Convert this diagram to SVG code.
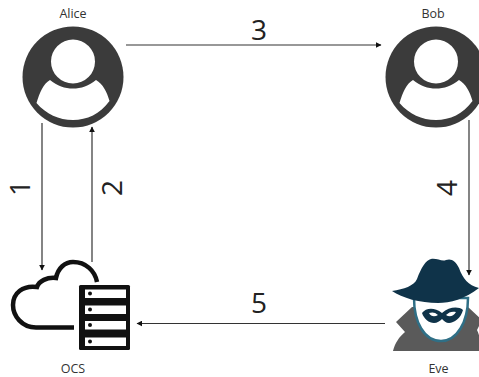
<svg xmlns="http://www.w3.org/2000/svg" width="479" height="377" viewBox="0 0 479 377">
<style>
text{font-family:"Open Sans","Noto Sans","DejaVu Sans",sans-serif;fill:#222}
.n{font-size:12.500px;text-anchor:middle;fill:#333}
.b{font-size:28px;text-anchor:middle}
.c{fill:none;stroke:#333;stroke-width:1.200;marker-end:url(#a)}
.u{fill:#3b3b3b}
.w{fill:#fff}
</style>
<defs>
<marker id="a" markerUnits="userSpaceOnUse" markerWidth="6" markerHeight="6" refX="5" refY="3" orient="auto"><path d="M0 0.200L5.500 3L0 5.800z" fill="#111"/></marker>
<g id="user">
<circle class="u" cx="0" cy="0" r="50.500"/>
<circle class="w" cx="0" cy="-15.500" r="22"/>
<path class="w" d="M-23 3C-16 9 -8 11.500 0 11.500C8 11.500 16 9 23 3C30 7 34 15 36.500 24C27 37 14 43 0 43C-14 43 -27 37 -36.500 26C-33 15 -30 7 -23 3z"/>
</g>
</defs>
<g id="connectors">
<path class="c" d="M126 45H381"/>
<path class="c" d="M42 123V270"/>
<path class="c" d="M92 262V127"/>
<path class="c" d="M469 120V275"/>
<path class="c" d="M385 323.500H137"/>
<text class="b" x="259" y="40">3</text>
<text class="b" x="259" y="313">5</text>
<text class="b" transform="translate(30 188) rotate(-90)">1</text>
<text class="b" transform="translate(122 188) rotate(-90)">2</text>
<text class="b" transform="translate(457 188) rotate(-90)">4</text>
</g>
<g id="alice"><use href="#user" x="73" y="77"/><text class="n" x="73" y="18">Alice</text></g>
<g id="bob"><use href="#user" x="436" y="77"/><text class="n" x="433" y="18">Bob</text></g>
<g id="ocs">
<path d="M74 327.500H36C22 327.500 13 316 13 305C13 293 23 285 37 287C39 281 47 277 56 278C58 268 65 262 73 262C86 262 95 271 97 282" fill="none" stroke="#111" stroke-width="4.500"/>
<rect x="79" y="285" width="51" height="65" rx="1.500" fill="#111"/>
<rect class="w" x="85" y="289.500" width="41" height="8.500"/>
<rect class="w" x="85" y="305.500" width="41" height="8.500"/>
<rect class="w" x="85" y="321" width="41" height="8.500"/>
<rect class="w" x="85" y="337.500" width="41" height="8.500"/>
<g fill="#111"><circle cx="90" cy="293.500" r="2"/><circle cx="90" cy="309.500" r="2"/><circle cx="90" cy="325" r="2"/><circle cx="90" cy="341.500" r="2"/></g>
<text class="n" x="73" y="373">OCS</text>
</g>
<g id="eve">
<path d="M393 351C395 343 399 337 405 332L396 322L412 307H468L482 320L477 330C480 336 481 345 482 351z" fill="#5a5a5a"/>
<path d="M414 298C414 322 424 341 441 341C457 341 468 322 468 298z" fill="#fff" stroke="#2f6f86" stroke-width="2.500"/>
<path d="M392 291C404 289 414 286 417 279C421 268 426 260 431 259C437 258 442 262 446 260C451 258 456 261 459 268C463 279 468 285 479 288C465 299 450 303 438 303C420 303 402 298 392 291z" fill="#0f3349"/>
<path fill-rule="evenodd" d="M422 313C426 308 434 307 442 313C449 307 458 306 463 310C461 318 454 323 449 323C446 323 444 321 442 319C440 321 437 323 434 323C429 323 424 319 422 313zM429 313C431 317 435 317 438 315C435 312 432 312 429 313zM446 315C449 317 453 317 456 312C452 311 449 312 446 315z" fill="#0f3349"/>
<text class="n" x="438.500" y="373">Eve</text>
</g>
</svg>
